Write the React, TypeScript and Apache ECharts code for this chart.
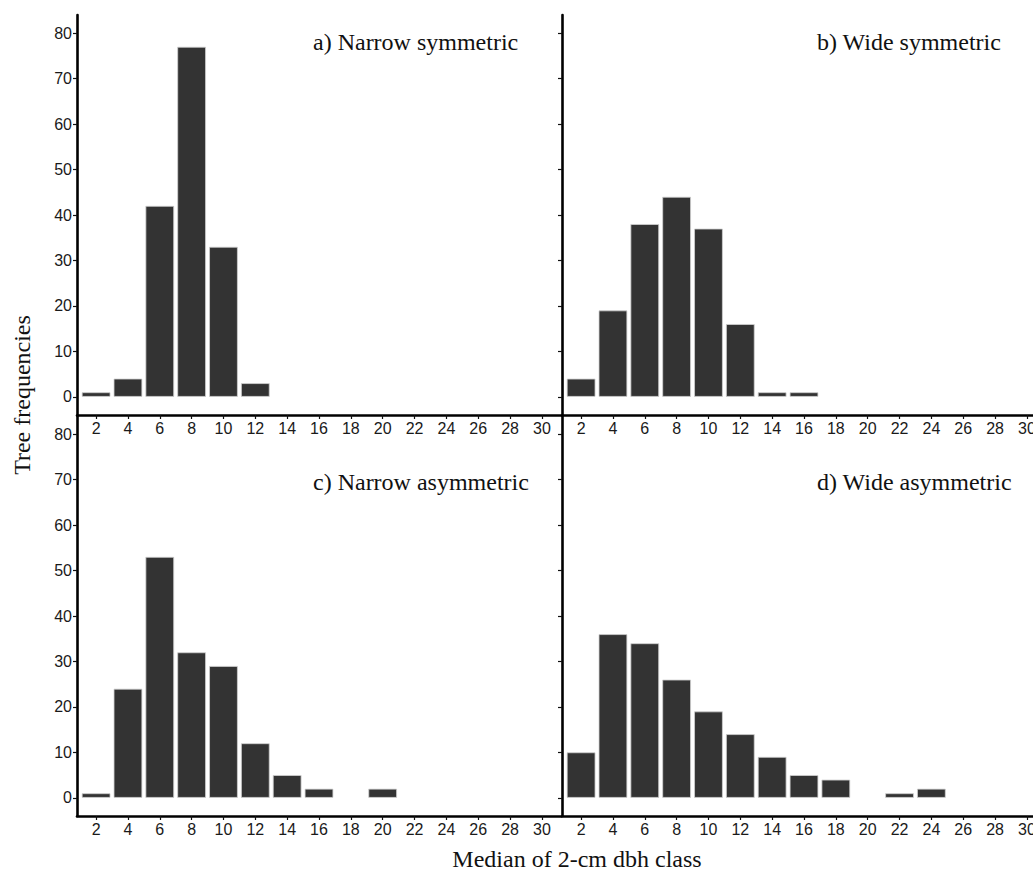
import React, { useEffect, useRef } from "react";
import * as echarts from "echarts";

const dbhClasses = [2, 4, 6, 8, 10, 12, 14, 16, 18, 20, 22, 24, 26, 28, 30];
const narrowSymmetric = [1, 4, 42, 77, 33, 3, 0, 0, 0, 0, 0, 0, 0, 0, 0];
const wideSymmetric = [4, 19, 38, 44, 37, 16, 1, 1, 0, 0, 0, 0, 0, 0, 0];
const narrowAsymmetric = [1, 24, 53, 32, 29, 12, 5, 2, 0, 2, 0, 0, 0, 0, 0];
const wideAsymmetric = [10, 36, 34, 26, 19, 14, 9, 5, 4, 0, 1, 2, 0, 0, 0];
const yTicks = [0, 10, 20, 30, 40, 50, 60, 70, 80];
const panelTitles = [
  "a) Narrow symmetric",
  "b) Wide symmetric",
  "c) Narrow asymmetric",
  "d) Wide asymmetric",
];
const yTitle = "Tree frequencies";
const xTitle = "Median of 2-cm dbh class";

const SANS = "'Liberation Sans', Arial, sans-serif";
const SERIF = "'Liberation Serif', 'Times New Roman', serif";

export default function App() {
  const ref = useRef<HTMLDivElement>(null);

  useEffect(() => {
    if (!ref.current) return;
    const chart = echarts.init(ref.current, undefined, { renderer: "svg" });

    const X_MIN = 0.8;
    const X_MAX = 31.2;
    const GW = 484;
    const GH = 400;
    const panels = [
      { left: 77, top: 15, values: narrowSymmetric, showY: true },
      { left: 562, top: 15, values: wideSymmetric, showY: false },
      { left: 77, top: 416, values: narrowAsymmetric, showY: true },
      { left: 562, top: 416, values: wideAsymmetric, showY: false },
    ];
    const unitPx = GW / (X_MAX - X_MIN);
    const barW = unitPx * 2 * 0.9;

    const grids = panels.map((p) => ({
      left: p.left,
      top: p.top,
      width: GW,
      height: GH,
      containLabel: false,
    }));

    const xAxes = panels.map((p, i) => ({
      type: "value",
      gridIndex: i,
      min: X_MIN,
      max: X_MAX,
      splitLine: { show: false },
      axisLine: { show: true, onZero: false, lineStyle: { color: "#000", width: 2.6 } },
      axisTick: {
        show: true,
        length: 4,
        customValues: dbhClasses,
        lineStyle: { color: "#111", width: 1.2 },
      },
      axisLabel: {
        show: true,
        customValues: dbhClasses,
        fontSize: 16,
        fontFamily: SANS,
        color: "#1a1a1a",
        margin: 5,
      },
    }));

    const yAxes = panels.map((p, i) => ({
      type: "value",
      gridIndex: i,
      min: -4,
      max: 84,
      splitLine: { show: false },
      axisLine: { show: true, onZero: false, lineStyle: { color: "#000", width: 2.6 } },
      axisTick: {
        show: true,
        length: 4,
        customValues: yTicks,
        lineStyle: { color: "#111", width: 1.2 },
      },
      axisLabel: {
        show: p.showY,
        customValues: yTicks,
        fontSize: 16,
        fontFamily: SANS,
        color: "#1a1a1a",
        margin: 5,
      },
    }));

    const series = panels.map((p, i) => ({
      type: "bar",
      xAxisIndex: i,
      yAxisIndex: i,
      barWidth: barW,
      data: p.values
        .map((v, k) => (v > 0 ? [dbhClasses[k], v] : null))
        .filter((d) => d !== null),
      itemStyle: { color: "#333333", borderColor: "#d0d0d0", borderWidth: 0.8 },
    }));

    const titlePos = [
      { x: 313, y: 42 },
      { x: 817, y: 42 },
      { x: 313, y: 482 },
      { x: 817, y: 482 },
    ];

    const graphic: any[] = panelTitles.map((t, i) => ({
      type: "text",
      x: titlePos[i].x,
      y: titlePos[i].y,
      style: {
        text: t,
        font: `24px ${SERIF}`,
        fill: "#111",
        align: "left",
        verticalAlign: "middle",
      },
    }));
    graphic.push({
      type: "text",
      x: 22,
      y: 395,
      rotation: Math.PI / 2,
      style: {
        text: yTitle,
        font: `24px ${SERIF}`,
        fill: "#111",
        align: "center",
        verticalAlign: "middle",
      },
    });
    graphic.push({
      type: "text",
      x: 577,
      y: 859,
      style: {
        text: xTitle,
        font: `24px ${SERIF}`,
        fill: "#111",
        align: "center",
        verticalAlign: "middle",
      },
    });

    chart.setOption({
      animation: false,
      backgroundColor: "#fff",
      grid: grids,
      xAxis: xAxes,
      yAxis: yAxes,
      series,
      graphic,
    } as any);

    return () => chart.dispose();
  }, []);

  return (
    <div
      style={{
        position: "fixed",
        left: 0,
        top: 0,
        width: 1033,
        height: 873,
        overflow: "hidden",
        background: "#fff",
      }}
    >
      <div ref={ref} style={{ width: 1070, height: 873 }} />
    </div>
  );
}
